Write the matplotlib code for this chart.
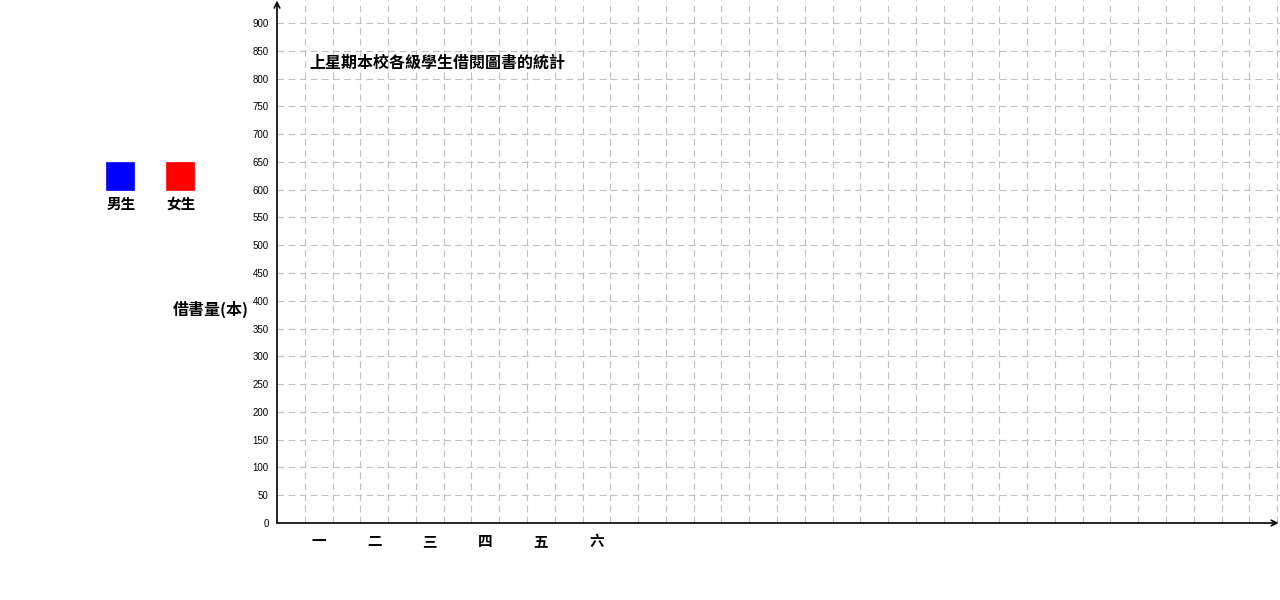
import matplotlib
matplotlib.use("Agg")
import matplotlib.pyplot as plt
from matplotlib.patches import Rectangle
import numpy as np

# 資料
grades = ["一", "二", "三", "四", "五", "六"]
series_names = ["男生", "女生"]
series_colors = ["#0000ff", "#ff0000"]
y_ticks = list(range(0, 901, 50))
title = "上星期本校各級學生借閱圖書的統計"
y_label = "借書量(本)"

cjk = ["Noto Sans CJK TC", "DejaVu Sans"]

W, H = 1280, 600
fig = plt.figure(figsize=(W / 100, H / 100), dpi=100)
fig.patch.set_facecolor("white")

# 坐標區 (原點在像素 277, 523)
x0, y0 = 277, 523
step = 27.78
ax = fig.add_axes([x0 / W, (H - y0) / H, (W - x0) / W, y0 / H])
ax.set_xlim(0, (W - x0) / step)
ax.set_ylim(0, y0 / (step / 50))

for s in ax.spines.values():
    s.set_visible(False)

ax.set_yticks(y_ticks)
ax.set_yticklabels([str(v) for v in y_ticks], fontsize=7, family="Liberation Sans")
ax.set_xticks(np.arange(1, 37))
ax.set_xticklabels([])
ax.tick_params(length=0, pad=6)
ax.grid(True, color="#c0c0c0", linestyle=(0, (6, 4)), linewidth=0.8)
ax.set_axisbelow(True)

# 軸線與箭頭
ax.annotate("", xy=(0, ax.get_ylim()[1] - 1), xytext=(0, 0),
            arrowprops=dict(arrowstyle="->", color="black", lw=1.2,
                            shrinkA=0, shrinkB=0), annotation_clip=False)
ax.annotate("", xy=(ax.get_xlim()[1] - 0.05, 0), xytext=(0, 0),
            arrowprops=dict(arrowstyle="->", color="black", lw=1.2,
                            shrinkA=0, shrinkB=0), annotation_clip=False)

# 年級標籤
for i, g in enumerate(grades):
    ax.text(1.5 + 2 * i, -32, g, ha="center", va="center", fontsize=10.5,
            fontweight="bold", family=cjk, clip_on=False)

# 標題
ax.text(1.15, 828, title, ha="left", va="center", fontsize=11.5,
        fontweight="bold", family=cjk)

# y 軸名稱
fig.text(211 / W, 1 - 309 / H, y_label, ha="center", va="center",
         fontsize=11.5, fontweight="bold", family=cjk)

# 圖例
for i, (name, c) in enumerate(zip(series_names, series_colors)):
    left = 106 + 60 * i
    fig.patches.append(Rectangle((left / W, 1 - 190 / H), 28 / W, 28 / H,
                                 transform=fig.transFigure, facecolor=c,
                                 edgecolor=c, linewidth=0.5))
    fig.text((left + 15) / W, 1 - 204 / H, name, ha="center", va="center",
             fontsize=10.5, fontweight="bold", family=cjk)

fig.savefig("out.png", dpi=100, facecolor="white")
